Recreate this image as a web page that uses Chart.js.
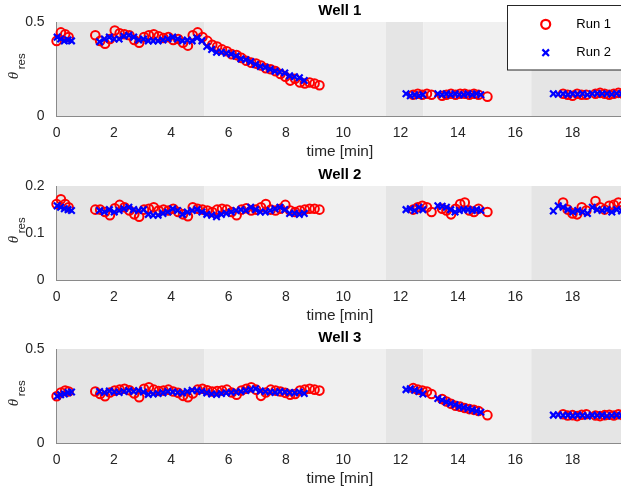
<html>
  <script src="https://cdn.jsdelivr.net/npm/chart.js"></script>
  <style>
    body { margin: 0; overflow: hidden; background: #fff; }
    canvas { position: absolute; left: 0; }
  </style>
  <body>
    <canvas id="well1" width="640" height="162" style="top: 0px"></canvas>
    <canvas id="well2" width="640" height="162" style="top: 164px"></canvas>
    <canvas id="well3" width="640" height="162" style="top: 327px"></canvas>
  </body>
  <script>
    // sample times [min] for each run (same sampling in all wells)
    var run1Time = [
      0, 0.15, 0.3, 0.42,
      1.35, 1.52, 1.69, 1.86, 2.03, 2.2, 2.37, 2.54, 2.71, 2.88, 3.05, 3.22, 3.39, 3.56, 3.73, 3.9,
      4.07, 4.24, 4.41, 4.58, 4.75, 4.92, 5.09, 5.26, 5.43, 5.6, 5.77, 5.94, 6.11, 6.28, 6.45, 6.62,
      6.79, 6.96, 7.13, 7.3, 7.47, 7.64, 7.81, 7.98, 8.15, 8.32, 8.49, 8.66, 8.83, 9.0, 9.17,
      12.44, 12.6, 12.76, 12.92, 13.08, 13.45, 13.6, 13.76, 13.92, 14.08, 14.24, 14.4, 14.56, 14.72, 15.03,
      17.67, 17.83, 18.0, 18.16, 18.32, 18.48, 18.8, 18.96, 19.12, 19.28, 19.44, 19.6, 19.76
    ];
    var run2Time = [
      0.02, 0.14, 0.27, 0.4, 0.52,
      1.5, 1.67, 1.84, 2.01, 2.18, 2.35, 2.52, 2.69, 2.86, 3.03, 3.2, 3.37, 3.54, 3.71, 3.88, 4.05,
      4.22, 4.39, 4.56, 4.73, 4.9, 5.07, 5.24, 5.41, 5.58, 5.75, 5.92, 6.09, 6.26, 6.43, 6.6, 6.77,
      6.94, 7.11, 7.28, 7.45, 7.62, 7.79, 7.96, 8.13, 8.3, 8.47, 8.64,
      12.19, 12.34, 12.49, 12.64, 12.78, 13.3, 13.45, 13.6, 13.75, 13.9, 14.05, 14.2, 14.35, 14.5, 14.65, 14.8,
      17.33, 17.5, 17.67, 17.84, 18.01, 18.18, 18.35, 18.52, 18.69, 18.86, 19.03, 19.2, 19.37, 19.54, 19.71
    ];

    // theta_res per well and run
    var well1Run1 = [
      0.40, 0.445, 0.435, 0.42,
      0.43, 0.40, 0.385, 0.41, 0.455, 0.44, 0.435, 0.43, 0.405, 0.39, 0.42, 0.43, 0.435, 0.425, 0.415, 0.42,
      0.405, 0.41, 0.39, 0.375, 0.43, 0.445, 0.42, 0.40, 0.38, 0.37, 0.355, 0.345, 0.33, 0.325, 0.31, 0.295,
      0.285, 0.28, 0.27, 0.255, 0.25, 0.24, 0.225, 0.21, 0.19, 0.2, 0.18, 0.175, 0.18, 0.175, 0.165,
      0.115, 0.12, 0.115, 0.12, 0.115, 0.11, 0.115, 0.12, 0.115, 0.12, 0.12, 0.115, 0.12, 0.115, 0.105,
      0.12, 0.115, 0.11, 0.12, 0.115, 0.115, 0.12, 0.125, 0.12, 0.115, 0.12, 0.125, 0.12
    ];
    var well1Run2 = [
      0.42, 0.41, 0.40, 0.405, 0.40,
      0.395, 0.41, 0.42, 0.41, 0.41, 0.425, 0.43, 0.42, 0.405, 0.41, 0.40, 0.40, 0.40, 0.405, 0.41, 0.42,
      0.41, 0.40, 0.405, 0.40, 0.415, 0.40, 0.37, 0.355, 0.34, 0.34, 0.335, 0.33, 0.32, 0.305, 0.30, 0.29,
      0.275, 0.265, 0.26, 0.25, 0.24, 0.235, 0.23, 0.215, 0.21, 0.205, 0.19,
      0.12, 0.11, 0.115, 0.11, 0.115, 0.12, 0.115, 0.12, 0.115, 0.12, 0.115, 0.115, 0.12, 0.115, 0.12, 0.115,
      0.12, 0.118, 0.12, 0.115, 0.12, 0.118, 0.12, 0.115, 0.12, 0.122, 0.12, 0.12, 0.118, 0.122, 0.12
    ];
    var well2Run1 = [
      0.162, 0.172, 0.162, 0.155,
      0.15, 0.15, 0.145, 0.138, 0.153, 0.16, 0.155, 0.148, 0.14, 0.135, 0.15, 0.152, 0.155, 0.148, 0.15, 0.148,
      0.152, 0.145, 0.14, 0.136, 0.155, 0.152, 0.15, 0.148, 0.145, 0.15, 0.152, 0.15, 0.145, 0.138, 0.15, 0.153,
      0.148, 0.15, 0.155, 0.162, 0.15, 0.148, 0.152, 0.16, 0.148, 0.145, 0.148, 0.15, 0.152, 0.152, 0.15,
      0.15, 0.155, 0.158, 0.155, 0.145, 0.152, 0.148, 0.14, 0.152, 0.162, 0.165, 0.148, 0.145, 0.152, 0.145,
      0.165, 0.15, 0.142, 0.14, 0.155, 0.148, 0.168, 0.155, 0.15, 0.158, 0.16, 0.165, 0.158
    ];
    var well2Run2 = [
      0.158, 0.155, 0.152, 0.15, 0.148,
      0.148, 0.145, 0.15, 0.145, 0.148, 0.152, 0.155, 0.15, 0.148, 0.15, 0.14, 0.138, 0.138, 0.142, 0.145, 0.152,
      0.148, 0.14, 0.145, 0.148, 0.15, 0.145, 0.14, 0.138, 0.135, 0.14, 0.142, 0.145, 0.148, 0.15, 0.148, 0.155,
      0.15, 0.145, 0.145, 0.148, 0.152, 0.155, 0.15, 0.142, 0.142, 0.14, 0.142,
      0.15, 0.152, 0.148, 0.155, 0.15, 0.158, 0.157, 0.155, 0.15, 0.145, 0.148, 0.15, 0.15, 0.148, 0.15, 0.148,
      0.147, 0.158, 0.155, 0.15, 0.145, 0.148, 0.145, 0.142, 0.155, 0.15, 0.148, 0.15, 0.145, 0.15, 0.147
    ];
    var well3Run1 = [
      0.25, 0.27, 0.28, 0.275,
      0.275, 0.262, 0.25, 0.27, 0.28, 0.285, 0.29, 0.282, 0.265, 0.245, 0.29, 0.298, 0.285, 0.278, 0.28, 0.285,
      0.275, 0.268, 0.252, 0.245, 0.265, 0.285, 0.29, 0.282, 0.275, 0.278, 0.28, 0.285, 0.27, 0.258, 0.28, 0.29,
      0.298, 0.285, 0.252, 0.27, 0.285, 0.28, 0.275, 0.268, 0.258, 0.262, 0.28, 0.285, 0.29, 0.285, 0.28,
      0.293, 0.285, 0.28, 0.275, 0.262, 0.235, 0.222, 0.21, 0.2, 0.195, 0.188, 0.182, 0.178, 0.172, 0.15,
      0.155, 0.148, 0.15, 0.145, 0.152, 0.155, 0.148, 0.145, 0.15, 0.152, 0.148, 0.155, 0.15
    ];
    var well3Run2 = [
      0.25, 0.258, 0.262, 0.27, 0.272,
      0.275, 0.27, 0.278, 0.272, 0.27, 0.275, 0.28, 0.275, 0.28, 0.272, 0.26, 0.262, 0.265, 0.268, 0.275, 0.272,
      0.27, 0.268, 0.275, 0.282, 0.28, 0.275, 0.268, 0.262, 0.26, 0.265, 0.268, 0.27, 0.272, 0.275, 0.28, 0.285,
      0.29, 0.278, 0.275, 0.272, 0.27, 0.275, 0.272, 0.27, 0.268, 0.272, 0.265,
      0.285, 0.29, 0.282, 0.275, 0.262, 0.238, 0.23, 0.22, 0.212, 0.205, 0.195, 0.19, 0.185, 0.178, 0.172, 0.165,
      0.15, 0.152, 0.148, 0.15, 0.146, 0.15, 0.148, 0.145, 0.15, 0.148, 0.15, 0.146, 0.148, 0.15, 0.148
    ];

    // phase boundaries [min], shaded alternately
    var phaseEdges = [0, 5.15, 11.49, 12.79, 16.56, 19.76];
    var xTicks = [0, 2, 4, 6, 8, 10, 12, 14, 16, 18];
    var runLabels = ["Run 1", "Run 2"];

    Chart.defaults.font.family = '"Liberation Sans", Arial, sans-serif';
    Chart.defaults.font.size = 14;
    Chart.defaults.color = "#262626";

    function pts(t, v) {
      return t.map((x, i) => ({ x: x, y: v[i] }));
    }

    var wellDecor = {
      id: "wellDecor",
      beforeDraw(chart) {
        const ctx = chart.ctx, a = chart.chartArea, x = chart.scales.x;
        ctx.save();
        for (let i = 0; i < phaseEdges.length - 1; i++) {
          const x0 = x.getPixelForValue(phaseEdges[i]);
          const x1 = x.getPixelForValue(phaseEdges[i + 1]);
          ctx.fillStyle = i % 2 ? "#f0f0f0" : "#e5e5e5";
          ctx.fillRect(x0, a.top, x1 - x0, a.bottom - a.top);
        }
        ctx.restore();
      },
      afterDraw(chart, args, opts) {
        const ctx = chart.ctx, a = chart.chartArea;
        ctx.save();
        // title
        ctx.fillStyle = "#000";
        ctx.font = 'bold 15px "Liberation Sans", Arial, sans-serif';
        ctx.textAlign = "center";
        ctx.textBaseline = "middle";
        ctx.fillText(opts.title, (a.left + a.right) / 2, a.top - 11);

        // y label: theta with subscript res
        const cy = (a.top + a.bottom) / 2;
        ctx.translate(0, cy);
        ctx.rotate(-Math.PI / 2);
        ctx.fillStyle = "#262626";
        ctx.textAlign = "left";
        ctx.textBaseline = "alphabetic";
        ctx.font = 'italic 15px "Liberation Serif", serif';
        ctx.fillText("\u03b8", -10, 17.5);
        ctx.font = '11.5px "Liberation Sans", Arial, sans-serif';
        ctx.fillText("res", 0, 25);
        ctx.restore();

        if (!opts.legend) return;
        const ds = chart.data.datasets;
        ctx.save();
        ctx.fillStyle = "#fff";
        ctx.strokeStyle = "#262626";
        ctx.lineWidth = 1;
        ctx.fillRect(507.5, 5.5, 120, 64.5);
        ctx.strokeRect(507.5, 5.5, 120, 64.5);
        ctx.font = '13px "Liberation Sans", Arial, sans-serif';
        ctx.textBaseline = "middle";
        [24.3, 52.7].forEach((ly, i) => {
          const d = ds.find(s => s.label === runLabels[i]);
          ctx.strokeStyle = d.borderColor;
          ctx.lineWidth = 2.2;
          ctx.beginPath();
          if (d.pointStyle === "circle") {
            ctx.arc(545.7, ly, 4.5, 0, Math.PI * 2);
          } else {
            ctx.moveTo(542.4, ly - 3.3); ctx.lineTo(549, ly + 3.3);
            ctx.moveTo(542.4, ly + 3.3); ctx.lineTo(549, ly - 3.3);
          }
          ctx.stroke();
          ctx.fillStyle = "#000";
          ctx.fillText(d.label, 576.3, ly);
        });
        ctx.restore();
      }
    };

    function makeWell(id, title, r1, r2, yMax, yTicks, legend) {
      const ctx = document.getElementById(id).getContext("2d");
      return new Chart(ctx, {
        type: "scatter",
        data: {
          datasets: [
            {
              label: runLabels[0],
              data: pts(run1Time, r1),
              pointStyle: "circle",
              pointRadius: 4.3,
              borderWidth: 2,
              pointBorderWidth: 2,
              borderColor: "#ff0000",
              backgroundColor: "rgba(0,0,0,0)",
              clip: false,
              order: 1
            },
            {
              label: runLabels[1],
              data: pts(run2Time, r2),
              pointStyle: "crossRot",
              pointRadius: 4.6,
              borderWidth: 2.2,
              pointBorderWidth: 2.2,
              borderColor: "#0000ff",
              backgroundColor: "#0000ff",
              clip: false,
              order: 0
            }
          ]
        },
        options: {
          responsive: false,
          animation: false,
          devicePixelRatio: 1,
          layout: { padding: { top: 22, right: 17, left: 0, bottom: 0 } },
          plugins: {
            legend: { display: false },
            tooltip: { enabled: false },
            wellDecor: { title: title, legend: legend }
          },
          scales: {
            x: {
              type: "linear",
              min: 0,
              max: phaseEdges[phaseEdges.length - 1],
              grid: { display: false },
              border: { display: true, color: "#8a8a8a", width: 1 },
              ticks: { padding: 0, maxRotation: 0 },
              title: {
                display: true,
                text: "time [min]",
                font: { size: 15.4 },
                padding: { top: 0, bottom: 1 }
              },
              afterBuildTicks: (s) => { s.ticks = xTicks.map(v => ({ value: v })); },
              afterFit: (s) => { s.height = 45.5; s.paddingLeft = 0; s.paddingRight = 0; }
            },
            y: {
              min: 0,
              max: yMax,
              grid: { display: false },
              border: { display: true, color: "#8a8a8a", width: 1 },
              ticks: { padding: 4 },
              afterBuildTicks: (s) => { s.ticks = yTicks.map(v => ({ value: v })); },
              afterFit: (s) => { s.width = 56.6; s.paddingTop = 0; s.paddingBottom = 0; }
            }
          }
        },
        plugins: [wellDecor]
      });
    }

    makeWell("well1", "Well 1", well1Run1, well1Run2, 0.5, [0, 0.5], true);
    makeWell("well2", "Well 2", well2Run1, well2Run2, 0.2, [0, 0.1, 0.2], false);
    makeWell("well3", "Well 3", well3Run1, well3Run2, 0.5, [0, 0.5], false);
  </script>
</html>
